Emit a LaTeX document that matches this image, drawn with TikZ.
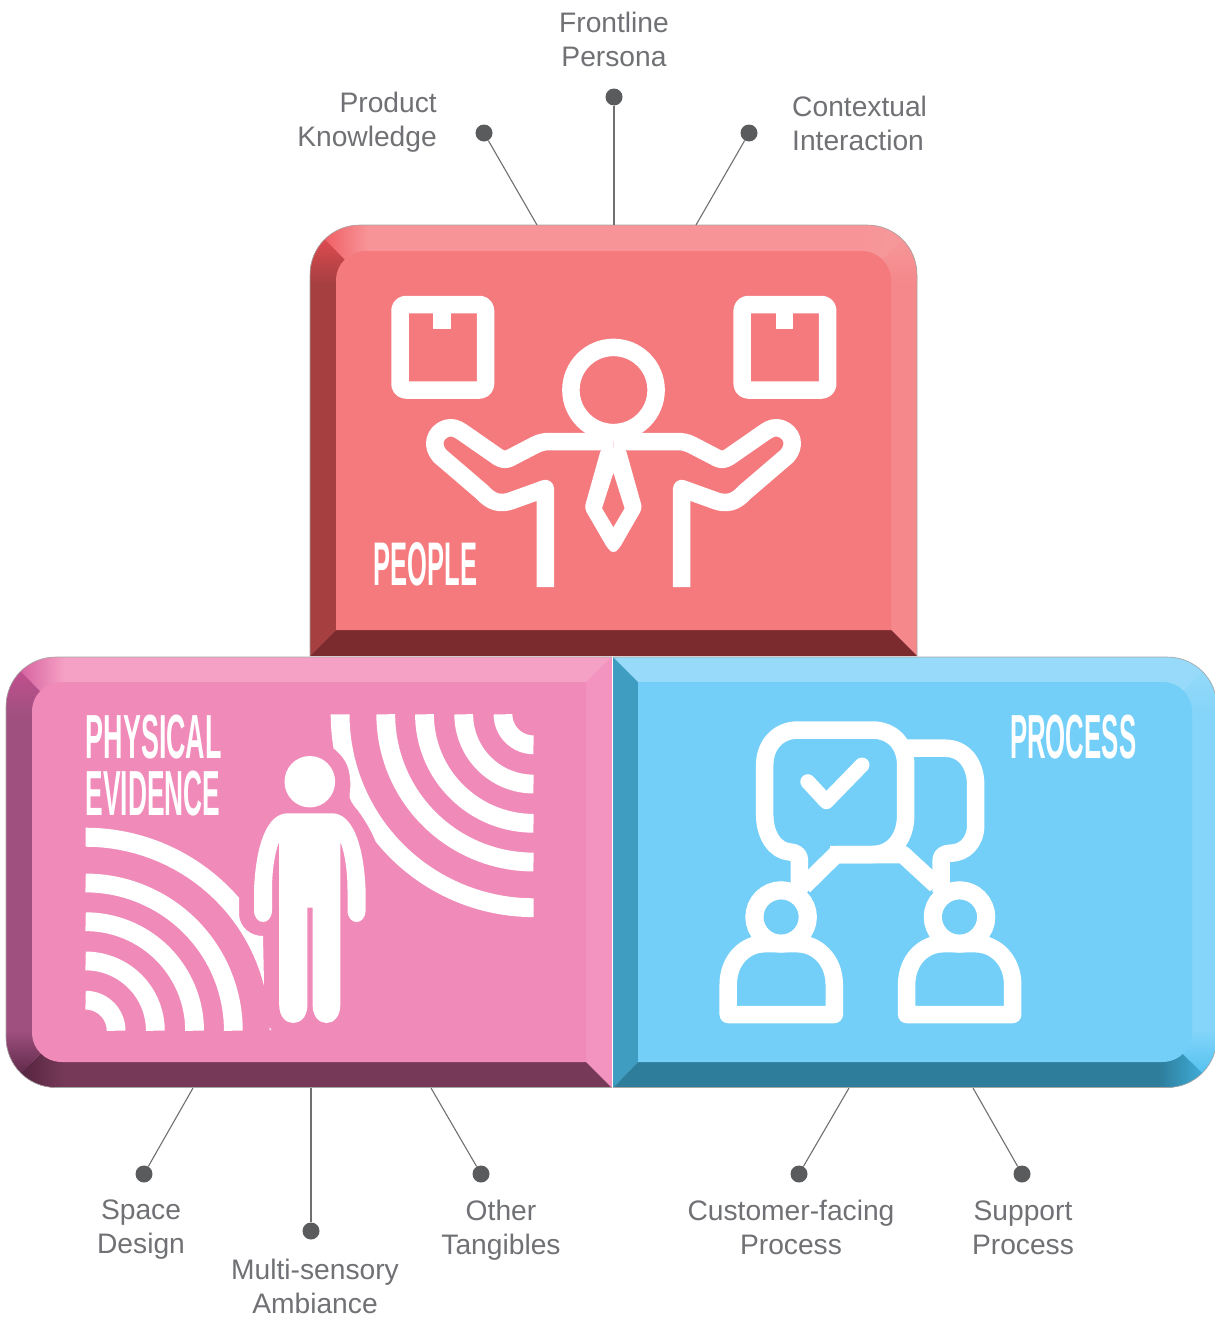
\documentclass[tikz,border=0pt]{standalone}
\usepackage{fontspec}
\setmainfont{Liberation Sans}
\newfontfamily\titlefont{Liberation Sans}[BoldFont={Liberation Sans Bold}]
\definecolor{lbl}{HTML}{707174}
\definecolor{dotc}{HTML}{5A5B5D}
\definecolor{linec}{HTML}{707070}
% people
\definecolor{rIn}{HTML}{F47A7E}\definecolor{rTop}{HTML}{F79497}\definecolor{rLeft}{HTML}{A63F40}
\definecolor{rBot}{HTML}{7B2A2D}\definecolor{rRight}{HTML}{F5888B}\definecolor{rCor}{HTML}{EE4F55}\definecolor{rCorB}{HTML}{F59A9C}
% evidence
\definecolor{pIn}{HTML}{F08BB9}\definecolor{pTop}{HTML}{F5A0C5}\definecolor{pLeft}{HTML}{A0507F}
\definecolor{pBot}{HTML}{763958}\definecolor{pRight}{HTML}{F393C0}\definecolor{pCorA}{HTML}{CC4F94}\definecolor{pCorB}{HTML}{4A1E38}
% process
\definecolor{bIn}{HTML}{73CFF7}\definecolor{bTop}{HTML}{98DAF9}\definecolor{bLeft}{HTML}{3F9DC1}
\definecolor{bBot}{HTML}{2E7D9B}\definecolor{bRight}{HTML}{84D5F9}\definecolor{bCor}{HTML}{45BCEC}
\tikzset{
  lab/.style={font=\fontsize{28.2}{34}\selectfont,text=lbl,align=center,inner sep=0pt},
  pin/.style={circle,fill=dotc,draw=none,minimum size=17pt,inner sep=0pt},
  wire/.style={draw=linec,line width=1.1pt},
  ttl/.style={inner sep=0pt,text=white,anchor=south west},
  icon/.style={draw=white,line width=17.5pt,line join=round,line cap=butt},
  rim/.style={draw=gray!70,line width=.6pt},
}
\newcommand{\ttltext}[3]{\resizebox{#1pt}{#2pt}{\titlefont\bfseries #3}}
% corner patch: corner x, corner y, x direction, y direction, colour at corner, colour along horizontal band, colour along vertical band
\newcommand{\cornerpatch}[7]{%
  \shade[left color=\ifnum#3>0 #5\else #6\fi,right color=\ifnum#3>0 #6\else #5\fi]
    (#1,#2) -- ({#1+#3*58},#2) -- ({#1+#3*58},{#2+#4*58}) -- cycle;
  \shade[top color=\ifnum#4>0 #5\else #7\fi,bottom color=\ifnum#4>0 #7\else #5\fi]
    (#1,#2) -- (#1,{#2+#4*58}) -- ({#1+#3*58},{#2+#4*58}) -- cycle;
}
\begin{document}
\begin{tikzpicture}[x=1pt,y=-1pt]
\useasboundingbox (0,0) rectangle (1215,1317);
\clip (0,0) rectangle (1215,1317);
\fill[white] (0,0) rectangle (1215,1317);

% ---------- PEOPLE block
\begin{scope}
\clip (310,656) -- (310,275) .. controls (310,247) and (332,225) .. (360,225) -- (867,225) .. controls (895,225) and (917,247) .. (917,275) -- (917,656) -- cycle;
\fill[rTop] (310,225) rectangle (917,656);
\fill[rLeft] (310,225) -- (336,251) -- (336,630) -- (310,656) -- cycle;
\fill[rRight] (917,225) -- (891,251) -- (891,630) -- (917,656) -- cycle;
\fill[rBot] (310,656) -- (336,630) -- (891,630) -- (917,656) -- cycle;
\cornerpatch{310}{225}{1}{1}{rCor}{rTop}{rLeft}
\cornerpatch{917}{225}{-1}{1}{rCorB}{rTop}{rRight}
\end{scope}
\draw[rim] (310,656) -- (310,275) .. controls (310,247) and (332,225) .. (360,225) -- (867,225) .. controls (895,225) and (917,247) .. (917,275) -- (917,656);
\fill[rIn] (336,630) -- (336,281) .. controls (336,264) and (349,251) .. (366,251) -- (861,251) .. controls (878,251) and (891,264) .. (891,281) -- (891,630) -- cycle;

% ---------- EVIDENCE block
\begin{scope}
\clip (612,657) -- (56,657) .. controls (28,657) and (6,679) .. (6,707) -- (6,1037) .. controls (6,1065) and (28,1087.5) .. (56,1087.5) -- (612,1087.5) -- cycle;
\fill[pTop] (6,657) rectangle (612,1088);
\fill[pLeft] (6,657) -- (32,682) -- (32,1062) -- (6,1088) -- cycle;
\fill[pRight] (612,657) -- (586,682) -- (586,1062) -- (612,1088) -- cycle;
\fill[pBot] (6,1088) -- (32,1062) -- (586,1062) -- (612,1088) -- cycle;
\cornerpatch{6}{657}{1}{1}{pCorA}{pTop}{pLeft}
\cornerpatch{6}{1088}{1}{-1}{pCorB}{pBot}{pLeft}
\end{scope}
\draw[rim] (612,657) -- (56,657) .. controls (28,657) and (6,679) .. (6,707) -- (6,1037) .. controls (6,1065) and (28,1087.5) .. (56,1087.5) -- (612,1087.5);
\fill[pIn] (586,682) -- (62,682) .. controls (45,682) and (32,695) .. (32,712) -- (32,1032) .. controls (32,1049) and (45,1062) .. (62,1062) -- (586,1062) -- cycle;

% ---------- PROCESS block
\begin{scope}
\clip (613,657) -- (1167,657) .. controls (1195,657) and (1217,679) .. (1217,707) -- (1217,1037) .. controls (1217,1065) and (1195,1087.5) .. (1167,1087.5) -- (613,1087.5) -- cycle;
\fill[bTop] (613,657) rectangle (1217,1088);
\fill[bLeft] (613,657) -- (638,682) -- (638,1062) -- (613,1088) -- cycle;
\fill[bRight] (1217,657) -- (1192,682) -- (1192,1062) -- (1217,1088) -- cycle;
\fill[bBot] (613,1088) -- (638,1062) -- (1192,1062) -- (1217,1088) -- cycle;
\cornerpatch{1217}{657}{-1}{1}{bTop}{bTop}{bRight}
\cornerpatch{1217}{1088}{-1}{-1}{bCor}{bBot}{bRight}
\end{scope}
\draw[rim] (613,1087.5) -- (1167,1087.5) .. controls (1195,1087.5) and (1217,1065) .. (1217,1037) -- (1217,707) .. controls (1217,679) and (1195,657) .. (1167,657) -- (613,657);
\fill[bIn] (638,682) -- (1162,682) .. controls (1179,682) and (1192,695) .. (1192,712) -- (1192,1032) .. controls (1192,1049) and (1179,1062) .. (1162,1062) -- (638,1062) -- cycle;

% ---------- People icon
\foreach \bx in {0,342.2}{
  \begin{scope}[shift={(\bx,0)}]
    \draw[icon,rounded corners=6pt] (400,304.5) rectangle (485.5,390);
    \fill[white] (433.4,312) rectangle (451,329.3);
  \end{scope}
}
\draw[icon] (613.5,390) circle[radius=42.6];
\foreach \sh/\sc in {0/1,1227/-1}{
  \begin{scope}[shift={(\sh,0)},xscale=\sc]
    \draw[icon] (545.3,587) -- (545.3,488.5) -- (512,500.5)
      .. controls (500,505) and (491,502) .. (482,492) -- (440,456)
      .. controls (431,446) and (434,433) .. (446,428.5)
      .. controls (452,426.5) and (457,428.5) .. (462,432) -- (498,457)
      .. controls (503,460) and (506,460) .. (510,458) -- (535,445)
      .. controls (540,442.5) and (544,441.5) .. (550,441.5) -- (613.5,441.5);
  \end{scope}
}
\fill[white,even odd rule] [rounded corners=4pt] (601.3,448) -- (625.4,448) -- (642.3,508.3) -- (619,549) -- (613.4,553.5) -- (608,549) -- (584.4,508.3) -- cycle
  [sharp corners] (613.4,472.7) -- (602,508.3) -- (613.4,527.3) -- (624.6,508.3) -- cycle;
\node[ttl] (tPeople) at (373.5,586.7) {\ttltext{103.5}{43}{PEOPLE}};

% ---------- Evidence icon
\node[ttl] (tPhys) at (85.6,759.3) {\ttltext{136}{43.5}{PHYSICAL}};
\node[ttl] (tEvid) at (85.6,816.7) {\ttltext{134.5}{44.5}{EVIDENCE}};
\foreach \r in {30.5,69.75,109,147.75}{
  \draw[white,line width=18.8pt] plot[domain=0:90,samples=40] ({85.6+\r*sin(\x)},{1030.7-\r*cos(\x)});
  \draw[white,line width=18.8pt] plot[domain=0:90,samples=40] ({533.5-\r*cos(\x)},{714.3+\r*sin(\x)});
}
\fill[white] plot[domain=0:49.1,samples=30] ({85.6+203*sin(\x)},{1030.7-203*cos(\x)})
  -- (239,915) .. controls (240,927) and (250,936) .. (263,936) -- (264,983)
  -- plot[domain=75.8:0,samples=30] ({85.6+184*sin(\x)},{1030.7-184*cos(\x)}) -- cycle;
\fill[white] plot[domain=90:38.9,samples=30] ({533.5-202.8*cos(\x)},{714.3+202.8*sin(\x)})
  .. controls (372,832) and (365,820) .. (357.6,810) .. controls (352,804) and (349,798) .. (349.5,795)
  .. controls (351,786) and (351,772) .. (345.5,761.7) .. controls (342,756) and (338,752) .. (334.5,749)
  -- plot[domain=9.9:0,samples=8] ({533.5-202.8*cos(\x)},{714.3+202.8*sin(\x)})
  -- plot[domain=0:90,samples=40] ({533.5-184*cos(\x)},{714.3+184*sin(\x)}) -- cycle;
\fill[white] (269.5,1027) -- (271.5,1030) -- (269.5,1030) -- cycle;
\fill[white] (309.8,781.7) ellipse[x radius=25.3,y radius=25.7];
\fill[white] (287,813.3) .. controls (268,814) and (256,842) .. (254,890) -- (254,910)
  .. controls (254,926) and (272,926) .. (272,910) -- (272,890) .. controls (272,870) and (275,852) .. (279.2,841.7)
  -- (279.2,1005) .. controls (279.2,1029) and (307.4,1029) .. (307.4,1005) -- (307.4,907.7) -- (312.6,907.7) -- (312.6,1005)
  .. controls (312.6,1029) and (340.3,1029) .. (340.3,1005) -- (340.3,841.7)
  .. controls (344.5,852) and (347.5,870) .. (347.5,890) -- (347.5,910)
  .. controls (347.5,926) and (365.6,926) .. (365.6,910) -- (365.6,890)
  .. controls (363.6,842) and (351.6,814) .. (332.7,813.3) -- cycle;

% ---------- Process icon
\node[ttl] (tProc) at (1009.8,759.3) {\ttltext{126.2}{43.5}{PROCESS}};
% back bubble
\draw[icon] (900,748.2) -- (945,748.2) .. controls (965,748.2) and (975.7,765) .. (975.7,785) -- (975.7,825)
  .. controls (975.7,842) and (965,853) .. (950,853.3) .. controls (944,853.5) and (941.2,856) .. (941.2,860) -- (941.2,892);
% main bubble
\draw[icon] (830,854.5) -- (872,854.5) .. controls (893,854.5) and (905.7,838) .. (905.7,815) -- (905.7,765)
  .. controls (905.7,745) and (893,730) .. (872,730) -- (798,730) .. controls (778,730) and (764.7,745) .. (764.7,765) -- (764.7,815)
  .. controls (764.7,835) and (775,851) .. (790,852) .. controls (796,852.5) and (799.4,855) .. (799.4,860) -- (799.4,892);
% tails and the bar between them
\draw[icon] (804,886) -- (836,854.5) -- (903,854.5) -- (936,885);
% check
\draw[white,line width=15pt,line cap=round,line join=round] (807.8,781.7) -- (826.3,801.7) -- (862,765);
% persons
\foreach \dx in {0,178.4}{
  \begin{scope}[shift={(\dx,0)}]
    \draw[icon,fill=bIn] (781.1,917) circle[radius=26.7];
    \draw[icon,fill=bIn] (728.2,1014.5) -- (728.2,985) .. controls (728.2,960) and (745,943.7) .. (765,943.7) -- (797,943.7)
       .. controls (817,943.7) and (834.3,960) .. (834.3,985) -- (834.3,1014.5) -- cycle;
    \draw[white,line width=18pt] (781.1,917) circle[radius=26.7];
  \end{scope}
}

% ---------- Labels
\node[lab] (lFront) at (614,39) {Frontline\\Persona};
\node[lab,align=right,anchor=east] (lProd) at (437,122.5) {Product\\Knowledge};
\node[lab,align=left,anchor=west] (lCont) at (792,123) {Contextual\\Interaction};
\node[lab] (lSpace) at (141,1230) {Space\\Design};
\node[lab] (lMulti) at (315,1286) {Multi-sensory\\Ambiance};
\node[lab] (lOther) at (501,1230) {Other\\Tangibles};
\node[lab] (lCust) at (791,1227) {Customer-facing\\Process};
\node[lab] (lSupp) at (1023,1227.5) {Support\\Process};

% ---------- Pins and connectors
\node[pin] (pFront) at (614,97) {};
\node[pin] (pProd) at (484,133) {};
\node[pin] (pCont) at (749,133) {};
\node[pin] (pSpace) at (144,1174) {};
\node[pin] (pMulti) at (311,1231) {};
\node[pin] (pOther) at (481,1174) {};
\node[pin] (pCust) at (799,1174) {};
\node[pin] (pSupp) at (1022,1174) {};
\coordinate (eFront) at (614,225);
\coordinate (eProd) at (537,225);
\coordinate (eCont) at (696,225);
\coordinate (eSpace) at (193,1088);
\coordinate (eMulti) at (311,1088);
\coordinate (eOther) at (431,1088);
\coordinate (eCust) at (849,1088);
\coordinate (eSupp) at (973,1088);
\foreach \n in {Front,Prod,Cont,Space,Multi,Other,Cust,Supp}{
  \draw[wire] (p\n) -- (e\n);
}
\end{tikzpicture}
\end{document}
